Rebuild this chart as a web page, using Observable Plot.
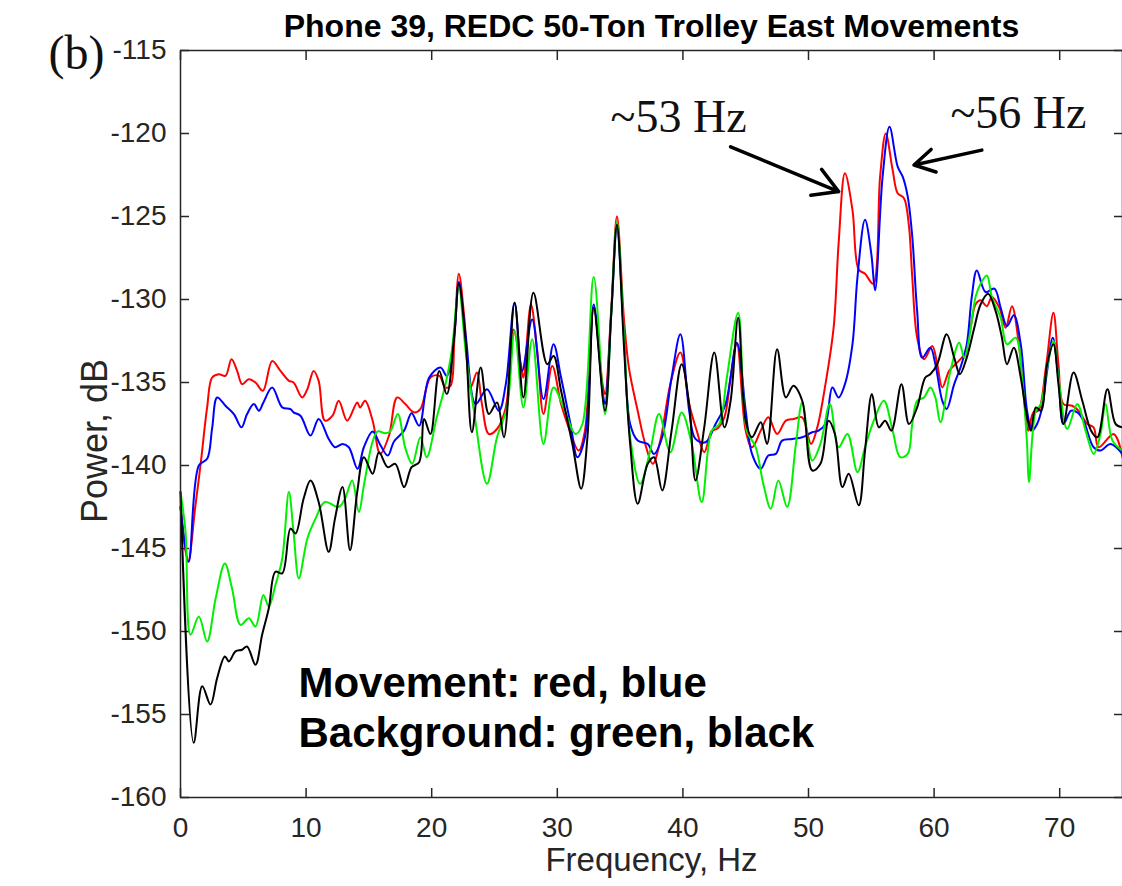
<!DOCTYPE html>
<html>
<head>
<meta charset="utf-8">
<script src="https://cdn.jsdelivr.net/npm/d3@7"></script>
<script src="https://cdn.jsdelivr.net/npm/@observablehq/plot@0.6"></script>
<style>
  html, body { margin: 0; padding: 0; background: #fff; }
  #chart svg { display: block; }
</style>
</head>
<body>
<div id="chart"></div>
<script>
// Power spectra (frequency in Hz, power in dB), sampled at each local peak/trough.
const movementRed = [
  [0, -142.5], [0.6, -145.8], [1.19, -142.4], [1.59, -140.0], [2.12, -136.5], [2.52, -134.7],
  [3.05, -134.5], [3.58, -134.6], [4.06, -133.6], [4.51, -134.3], [4.91, -135.1], [5.44, -134.8],
  [5.97, -135.0], [6.56, -135.5], [7.3, -133.7], [7.96, -134.3], [8.63, -134.9], [9.0, -135.0],
  [9.69, -135.9], [10.1, -135.4], [10.6, -134.3], [11.0, -134.9], [11.5, -137.3], [12.1, -137.0],
  [12.6, -136.1], [13.27, -137.3], [14.07, -136.2], [14.3, -136.5], [14.7, -136.1], [15.3, -137.3],
  [15.9, -139.3], [16.6, -138.2], [17.25, -135.9], [17.9, -136.3], [18.6, -136.8], [19.1, -136.6],
  [19.9, -134.7], [20.6, -134.6], [21.1, -135.3], [21.5, -135.2], [21.8, -132.5], [22.16, -128.45],
  [22.6, -131.1], [23.1, -135.3], [23.6, -134.4], [24.0, -136.3], [24.55, -138.1], [25.2, -137.8],
  [25.9, -136.5], [26.5, -131.8], [27.1, -133.9], [27.3, -134.7], [27.9, -130.3], [28.4, -133.1],
  [28.9, -136.9], [29.6, -134.0], [30.3, -136.3], [30.9, -137.7], [31.7, -139.1], [32.2, -137.9],
  [32.9, -130.5], [33.6, -135.1], [33.8, -135.7], [34.3, -130.5], [34.75, -125.0], [35.3, -131.1],
  [35.7, -134.1], [36.4, -136.7], [37.0, -138.7], [37.6, -139.9], [38.2, -138.5], [39.0, -135.1],
  [39.8, -133.2], [40.5, -136.3], [41.1, -137.9], [41.7, -139.2], [42.3, -137.9], [42.7, -137.8],
  [43.3, -137.1], [43.8, -134.7], [44.3, -132.7], [45.0, -137.9], [45.5, -138.9], [46.2, -137.9],
  [46.8, -137.1], [47.5, -138.1], [48.2, -137.3], [48.8, -137.2], [49.5, -137.1], [50.2, -138.7],
  [50.7, -137.7], [51.35, -135.1], [52.0, -131.7], [52.4, -126.6], [52.9, -122.4], [53.5, -124.6],
  [54.0, -128.2], [54.5, -128.45], [55.15, -129.05], [55.7, -122.6], [56.15, -120.0], [56.7, -122.2],
  [57.1, -123.6], [57.6, -123.9], [58.0, -125.6], [58.26, -128.65], [58.65, -132.3], [59.2, -133.6],
  [59.85, -132.8], [60.25, -133.9], [60.65, -135.3], [61.2, -134.3], [61.7, -133.9], [62.4, -133.3],
  [62.9, -131.7], [63.3, -130.3], [63.7, -130.05], [64.2, -130.4], [64.6, -129.85], [65.2, -130.5],
  [65.7, -131.7], [66.2, -130.4], [66.75, -132.7], [67.15, -135.9], [67.5, -137.9], [67.9, -136.8],
  [68.3, -136.7], [68.9, -134.1], [69.5, -130.8], [69.9, -133.9], [70.3, -136.3], [71.0, -136.4],
  [71.5, -136.7], [72.2, -137.5], [72.7, -137.7], [73.1, -138.9], [74.3, -138.1], [75, -139.5]
];

const movementBlue = [
  [0, -142.5], [0.65, -145.8], [1.46, -140.0], [2.12, -139.6], [2.52, -137.75], [2.92, -135.9],
  [3.58, -136.4], [4.25, -136.9], [4.86, -137.7], [5.3, -136.9], [5.84, -136.3], [6.24, -136.7],
  [6.6, -136.2], [7.3, -135.3], [8.1, -136.5], [8.76, -136.6], [9.0, -136.8], [9.55, -137.0],
  [10.35, -138.2], [11.0, -137.2], [11.8, -138.4], [12.3, -138.9], [12.9, -138.7], [13.4, -138.9],
  [14.1, -140.2], [14.6, -138.9], [15.3, -137.95], [15.9, -138.75], [16.5, -139.4], [17.0, -138.55],
  [17.8, -137.9], [18.4, -136.85], [19.0, -137.6], [19.8, -134.7], [20.7, -134.1], [21.2, -134.6],
  [21.8, -132.1], [22.16, -128.95], [22.7, -132.1], [23.5, -136.3], [24.4, -135.4], [25.35, -136.7],
  [25.9, -135.1], [26.6, -130.2], [27.2, -134.3], [28.0, -131.2], [28.9, -136.0], [29.7, -132.7],
  [30.3, -134.7], [31.05, -137.5], [31.6, -139.5], [32.2, -138.3], [32.9, -130.3], [33.6, -135.5],
  [33.8, -136.3], [34.3, -130.8], [34.75, -125.7], [35.3, -132.1], [35.8, -137.5], [36.4, -138.5],
  [37.2, -138.7], [37.7, -139.3], [38.35, -138.3], [39.1, -134.7], [39.8, -132.1], [40.5, -136.7],
  [41.0, -138.4], [41.8, -138.6], [42.6, -137.5], [43.4, -136.3], [44.3, -132.6], [45.0, -136.7],
  [45.5, -139.3], [46.2, -140.2], [46.8, -139.4], [47.4, -139.3], [47.9, -138.5], [48.7, -138.4],
  [49.5, -138.3], [50.3, -138.0], [50.8, -137.9], [51.35, -137.5], [51.9, -135.3], [52.4, -135.9],
  [52.9, -135.1], [53.5, -132.7], [53.9, -128.65], [54.5, -125.2], [55.0, -127.25], [55.3, -129.45],
  [55.9, -122.6], [56.45, -119.6], [57.1, -122.0], [57.5, -122.6], [57.9, -123.8], [58.26, -126.2],
  [58.65, -130.7], [59.05, -133.5], [59.7, -132.9], [60.1, -133.9], [60.65, -136.1], [61.0, -136.6],
  [61.6, -135.1], [62.1, -134.1], [62.6, -132.7], [63.0, -129.85], [63.4, -128.25], [64.1, -129.55],
  [64.8, -129.35], [65.3, -130.5], [65.8, -131.6], [66.35, -130.95], [66.9, -132.7], [67.4, -136.7],
  [67.8, -137.9], [68.2, -137.5], [68.6, -136.5], [69.0, -134.3], [69.45, -132.3], [69.9, -134.7],
  [70.3, -137.5], [70.9, -136.7], [71.4, -136.8], [71.9, -137.3], [72.7, -138.9], [73.25, -139.1],
  [74.05, -138.7], [75, -139.3]
];

const backgroundGreen = [
  [0, -141.6], [0.4, -144.0], [0.8, -150.2], [1.46, -149.1], [2.12, -150.6], [2.8, -148.0],
  [3.53, -145.9], [4.1, -147.4], [4.78, -149.6], [5.44, -149.2], [5.97, -149.7], [6.6, -147.8],
  [7.03, -148.5], [7.56, -147.2], [8.1, -145.6], [8.63, -141.6], [9.0, -144.0], [9.42, -146.8],
  [10.1, -144.4], [10.75, -143.2], [11.5, -142.2], [12.6, -142.5], [13.1, -142.0], [13.67, -140.9],
  [14.2, -142.8], [14.6, -141.2], [15.3, -138.55], [15.7, -137.95], [16.3, -138.05], [16.7, -137.95],
  [17.3, -136.9], [17.9, -138.95], [18.45, -139.9], [19.1, -138.3], [19.6, -139.5], [20.4, -137.1],
  [21.1, -135.1], [21.6, -133.1], [22.16, -129.3], [22.7, -133.1], [23.4, -136.9], [24.4, -141.1],
  [25.2, -138.3], [26.0, -136.5], [26.6, -131.9], [27.3, -136.5], [28.0, -132.4], [28.9, -138.7],
  [29.7, -135.3], [30.5, -136.5], [31.45, -138.1], [32.0, -137.5], [32.9, -128.65], [33.8, -136.9],
  [34.3, -130.8], [34.75, -125.3], [35.3, -132.1], [35.8, -138.3], [36.6, -141.1], [37.4, -139.1],
  [38.1, -136.9], [39.0, -139.2], [39.9, -136.8], [40.7, -138.7], [41.5, -142.2], [42.3, -137.9],
  [42.9, -137.5], [43.5, -134.7], [44.4, -130.8], [45.1, -137.9], [45.8, -138.9], [46.4, -141.1],
  [47.0, -142.6], [47.6, -140.9], [48.3, -142.5], [49.0, -138.7], [49.5, -136.2], [50.3, -139.7],
  [50.95, -138.7], [51.7, -136.3], [52.4, -138.9], [53.1, -138.1], [53.9, -140.4], [54.5, -138.9],
  [55.2, -137.3], [56.0, -136.1], [56.7, -137.9], [57.3, -139.5], [57.9, -139.3], [58.26, -137.5],
  [58.65, -136.1], [59.2, -135.9], [59.7, -135.3], [60.1, -135.9], [60.5, -137.4], [61.3, -134.3],
  [62.0, -132.6], [62.4, -133.5], [62.8, -132.3], [63.3, -129.85], [63.7, -129.05], [64.2, -128.55],
  [64.6, -129.85], [65.3, -131.1], [65.8, -132.7], [66.5, -132.3], [67.0, -134.7], [67.4, -138.7],
  [67.55, -141.0], [68.1, -136.7], [68.5, -136.3], [69.0, -134.1], [69.5, -132.5], [69.9, -134.7],
  [70.6, -137.8], [71.4, -136.3], [72.06, -137.9], [72.7, -139.3], [73.25, -138.1], [73.65, -136.3],
  [74.2, -138.5], [75, -139.1]
];

const backgroundBlack = [
  [0, -141.6], [1.05, -156.7], [1.73, -153.3], [2.39, -154.4], [2.92, -152.8], [3.53, -151.5],
  [3.85, -151.8], [4.38, -151.2], [4.9, -151.1], [5.3, -150.9], [5.97, -152.0], [6.5, -150.2],
  [7.03, -148.6], [7.56, -146.4], [8.1, -146.5], [8.76, -143.8], [9.16, -144.1], [9.8, -142.0],
  [10.35, -140.9], [11.0, -142.2], [11.8, -145.2], [12.3, -143.2], [12.9, -141.3], [13.5, -145.1],
  [14.07, -141.6], [14.6, -139.5], [15.3, -140.5], [15.8, -139.2], [16.5, -140.1], [17.1, -139.9],
  [17.8, -141.3], [18.4, -140.1], [19.0, -139.8], [19.4, -137.2], [19.9, -138.1], [20.6, -134.3],
  [21.2, -135.7], [21.8, -132.1], [22.16, -129.05], [22.7, -132.5], [23.2, -138.0], [23.9, -134.1],
  [24.55, -136.9], [25.2, -136.2], [25.75, -138.3], [26.6, -130.2], [27.3, -135.9], [28.1, -129.6],
  [29.2, -133.9], [29.7, -133.4], [30.3, -135.5], [31.2, -138.7], [31.9, -141.4], [32.4, -138.3],
  [32.9, -130.5], [33.8, -136.7], [34.3, -130.8], [34.75, -125.5], [35.3, -132.7], [35.8, -138.7],
  [36.4, -142.3], [37.2, -139.9], [37.7, -139.5], [38.35, -141.5], [39.1, -137.9], [39.9, -133.9],
  [40.5, -136.3], [41.0, -140.9], [41.7, -137.7], [42.5, -133.2], [43.3, -137.7], [43.8, -136.1],
  [44.4, -131.1], [45.0, -137.3], [45.5, -138.3], [46.2, -137.4], [46.7, -138.7], [47.5, -133.0],
  [48.2, -135.9], [48.8, -135.2], [49.5, -136.1], [50.3, -140.3], [50.95, -139.9], [51.6, -137.3],
  [52.1, -138.1], [52.7, -141.3], [53.2, -140.5], [54.0, -142.4], [54.5, -139.1], [55.05, -135.7],
  [55.6, -137.7], [56.1, -137.3], [56.6, -137.9], [57.4, -135.1], [58.0, -137.5], [58.65, -136.5],
  [59.3, -134.7], [59.7, -134.5], [60.25, -133.9], [61.0, -132.1], [61.6, -133.5], [62.05, -134.5],
  [62.6, -133.5], [63.2, -131.7], [63.7, -130.3], [64.3, -129.65], [64.9, -130.7], [65.4, -132.3],
  [65.8, -133.9], [66.35, -132.9], [66.9, -134.7], [67.4, -137.1], [67.7, -137.9], [68.1, -136.5],
  [68.5, -136.7], [69.0, -133.9], [69.5, -132.7], [69.9, -135.1], [70.3, -137.5], [71.1, -134.4],
  [71.8, -136.1], [72.5, -137.9], [73.0, -138.3], [73.8, -135.4], [74.45, -137.5], [75, -137.7]
];

// Axis ticks
const freqTicks = [0, 10, 20, 30, 40, 50, 60, 70];
const powerTicks = [-160, -155, -150, -145, -140, -135, -130, -125, -120, -115];

// Peak call-outs: label, label anchor (Hz, dB), arrow from/to (Hz, dB)
const callouts = [
  {label: "~53 Hz", lx: 34.24, ly: -119.9, x1: 43.8, y1: -120.8, x2: 52.4, y2: -123.5},
  {label: "~56 Hz", lx: 61.3, ly: -119.65, x1: 63.8, y1: -121.0, x2: 58.4, y2: -121.9}
];

// Legend lines drawn inside the plot area
const legendLines = [
  {text: "Movement: red, blue", x: 9.39, y: -153.95},
  {text: "Background: green, black", x: 9.39, y: -156.95}
];

const toRows = pts => pts.map(([freq, power]) => ({freq, power}));

const axisInk = "#262626";
const sans = "'Liberation Sans', Arial, Helvetica, sans-serif";
const serif = "'Liberation Serif', 'Times New Roman', serif";
const tickFont = 28;

const spectrum = (pts, color) =>
  Plot.line(toRows(pts), {x: "freq", y: "power", stroke: color, strokeWidth: 2, curve: "catmull-rom"});

const chart = Plot.plot({
  width: 1122,
  height: 886,
  marginLeft: 180,
  marginRight: 0,
  marginTop: 50,
  marginBottom: 89,
  style: {fontFamily: sans, background: "#fff", overflow: "visible"},
  x: {domain: [0, 75]},
  y: {domain: [-160, -115]},
  marks: [
    // inward ticks on all four sides
    Plot.axisX({ticks: freqTicks, tickSize: -9, tickFormat: () => "", label: null, stroke: axisInk, strokeWidth: 1.5}),
    Plot.axisX({anchor: "top", ticks: freqTicks, tickSize: -9, tickFormat: () => "", label: null, stroke: axisInk, strokeWidth: 1.5}),
    Plot.axisY({ticks: powerTicks, tickSize: -9, tickFormat: () => "", label: null, stroke: axisInk, strokeWidth: 1.5}),
    Plot.axisY({anchor: "right", ticks: powerTicks, tickSize: -9, tickFormat: () => "", label: null, stroke: axisInk, strokeWidth: 1.5}),
    // tick labels, placed on the scale positions of each tick
    Plot.text(freqTicks, {x: d => d, frameAnchor: "bottom", dy: 20, lineAnchor: "top",
      text: d => String(d), fontSize: tickFont, fill: axisInk}),
    Plot.text(powerTicks, {y: d => d, frameAnchor: "left", dx: -14, textAnchor: "end",
      text: d => (d < 0 ? "-" : "") + Math.abs(d), fontSize: tickFont, fill: axisInk}),
    // spectra
    spectrum(movementRed, "#ff0000"),
    spectrum(movementBlue, "#0000ff"),
    spectrum(backgroundGreen, "#00f000"),
    spectrum(backgroundBlack, "#000000"),
    Plot.frame({stroke: axisInk, strokeWidth: 1.5}),
    // axis titles and chart title
    Plot.text(["Frequency, Hz"], {frameAnchor: "bottom", dy: 73, lineAnchor: "bottom", fontSize: 33, fill: axisInk}),
    Plot.text(["Power, dB"], {frameAnchor: "left", dx: -85, dy: 17, rotate: -90, textAnchor: "middle", fontSize: 36, fill: axisInk}),
    Plot.text(["Phone 39, REDC 50-Ton Trolley East Movements"], {frameAnchor: "top", dy: -14, lineAnchor: "bottom", fontSize: 32, fontWeight: "bold", fill: "#000"}),
    Plot.text(["(b)"], {frameAnchor: "top-left", dx: -132, dy: 18, textAnchor: "start", lineAnchor: "bottom", fontSize: 48, fontFamily: serif, fill: "#111"}),
    // peak call-outs
    Plot.arrow(callouts, {x1: "x1", y1: "y1", x2: "x2", y2: "y2", stroke: "#000", strokeWidth: 3.5, headLength: 12, headAngle: 60}),
    Plot.text(callouts, {x: "lx", y: "ly", text: "label", textAnchor: "start", lineAnchor: "bottom", fontSize: 46, fontFamily: serif, fill: "#111"}),
    // legend text
    Plot.text(legendLines, {x: "x", y: "y", text: "text", textAnchor: "start", lineAnchor: "bottom", fontSize: 42, fontWeight: "bold", fill: "#000"})
  ]
});

document.getElementById("chart").append(chart);
</script>
</body>
</html>
